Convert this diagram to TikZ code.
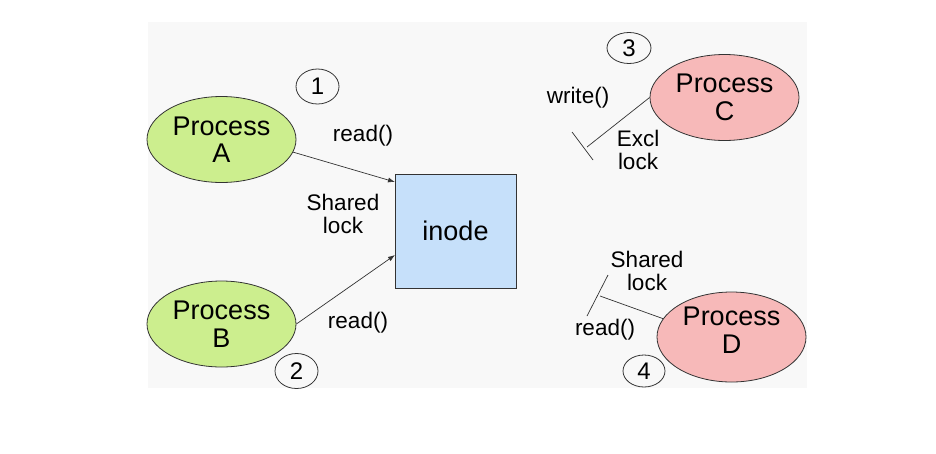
\documentclass[tikz,border=0pt]{standalone}
\usepackage{fontspec}
\setmainfont{Liberation Sans}
\usetikzlibrary{shapes.geometric,arrows.meta}
\definecolor{bgc}{HTML}{F8F8F8}
\definecolor{grn}{HTML}{CCEE8E}
\definecolor{pnk}{HTML}{F7B9B9}
\definecolor{blu}{HTML}{C6E0FA}
\definecolor{edge}{HTML}{333333}
\tikzset{
  proc/.style={ellipse, draw=edge, line width=0.8pt, minimum width=149pt, minimum height=86pt, inner sep=0pt, align=center, font=\fontsize{27}{27.5}\selectfont},
  ptext/.style={align=center, inner sep=0pt, font=\fontsize{27}{27.5}\selectfont},
  num/.style={ellipse, draw=edge, line width=0.8pt, minimum width=43pt, minimum height=35pt, inner sep=0pt, font=\fontsize{24}{24}\selectfont},
  lbl/.style={align=center, inner sep=0pt, font=\fontsize{22.5}{22.5}\selectfont},
  conn/.style={draw=edge, line width=0.7pt},
  arr/.style={conn, -{Latex[length=7pt,width=5pt]}}
}
\begin{document}
\begin{tikzpicture}[x=1pt,y=-1pt]
\useasboundingbox (0,0) rectangle (936,453);
\fill[white] (0,0) rectangle (936,453);
\fill[bgc] (148,22) rectangle (807,388);

\node[proc, fill=grn] (A) at (221.5,139.5) {Process\\A};
\node[proc, fill=grn] (B) at (221.5,324) {Process\\B};
\node[draw=edge, line width=0.8pt, fill=blu, minimum width=121pt, minimum height=114pt, inner sep=0pt, font=\fontsize{27}{30}\selectfont] (inode) at (455.5,231) {inode};
\node[proc, fill=pnk] (C) at (724.5,97.5) {Process\\C};
\node[proc, fill=pnk, minimum height=90pt] (D) at (731.5,337) {};
\node[ptext] (Dt) at (731.5,330) {Process\\D};

\node[num] (n1) at (317.5,86.5) {1};
\node[num] (n2) at (296.5,371) {2};
\node[num, minimum width=44pt, minimum height=31pt] (n3) at (629,48) {3};
\node[num, minimum width=42pt, minimum height=32pt] (n4) at (644,371) {4};

\node[lbl] (ra) at (363,136) {read()};
\node[lbl] (rb) at (358,323) {read()};
\node[lbl] (sl) at (343,214) {Shared\\lock};
\node[lbl] (wc) at (578,98) {write()};
\node[lbl] (el) at (638,150) {Excl\\lock};
\node[lbl] (sd) at (647,271) {Shared\\lock};
\node[lbl] (rd) at (605,330) {read()};

\coordinate (ia) at (395,182);
\coordinate (ib) at (395,255);
\draw[arr] (A.-10) -- (ia);
\draw[arr] (B.east) -- (ib);

\coordinate (tc) at (587,147);
\coordinate (tc1) at (572,132);
\coordinate (tc2) at (593,160);
\draw[conn] (C.west) -- (tc);
\draw[conn] (tc1) -- (tc2);

\coordinate (td) at (600,296);
\coordinate (td1) at (608,275);
\coordinate (td2) at (587,316);
\draw[conn] (D.165) -- (td);
\draw[conn] (td1) -- (td2);
\end{tikzpicture}
\end{document}
